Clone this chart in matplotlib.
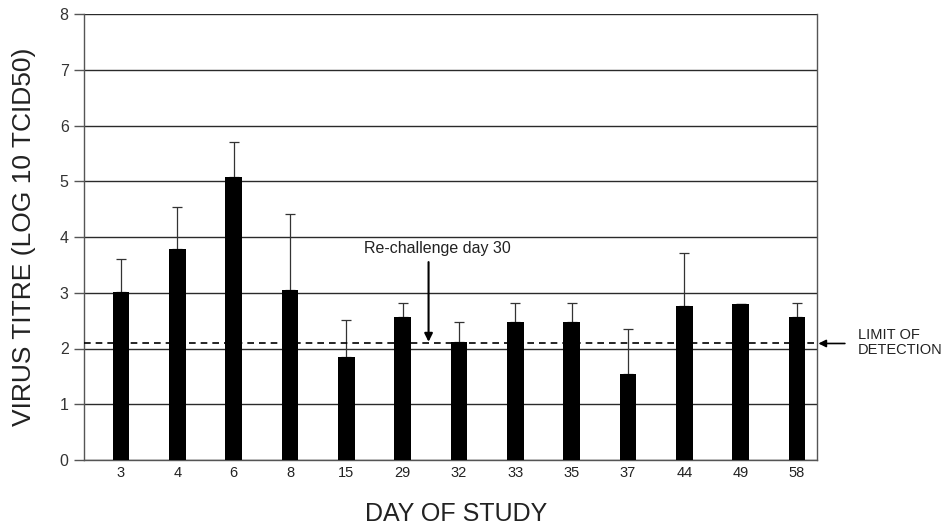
import matplotlib
matplotlib.use("Agg")
import matplotlib.pyplot as plt
import numpy as np

days = ["3", "4", "6", "8", "15", "29", "32", "33", "35", "37", "44", "49", "58"]
titre = [3.01, 3.78, 5.08, 3.05, 1.85, 2.56, 2.12, 2.48, 2.48, 1.54, 2.76, 2.80, 2.56]
upper = [3.61, 4.54, 5.71, 4.42, 2.51, 2.81, 2.48, 2.81, 2.81, 2.35, 3.71, 2.80, 2.81]
limit_detection = 2.09
rechallenge_pos = 5.46  # between day 29 and day 32

plt.rcParams['font.family'] = ['Liberation Sans', 'DejaVu Sans']

fig = plt.figure(figsize=(9.44, 5.28), dpi=100)
ax = fig.add_axes([84/944, 1-460/528, (817-84)/944, (460-14)/528])

x = np.arange(len(days))
err_up = np.array(upper) - np.array(titre)
err = np.vstack([np.zeros_like(err_up), err_up])
ax.bar(x, titre, width=0.30, color='black', zorder=3)
ax.errorbar(x, titre, yerr=err, fmt='none', ecolor='#333333', elinewidth=0.9,
            capsize=3.5, capthick=0.9, zorder=2)

ax.set_xlim(-0.656, 12.355)
ax.set_ylim(0, 8)
ax.set_yticks(range(0, 9))
ax.yaxis.grid(True, color='#2a2a2a', linewidth=1.0, zorder=0)
ax.set_axisbelow(True)
ax.set_xticks(x)
ax.set_xticklabels(days, fontsize=10.5)
ax.tick_params(axis='x', length=0, pad=4, colors='#222222')
ax.tick_params(axis='y', length=7, width=1, colors='#555555', labelcolor='#333333',
               labelsize=11.5, pad=4)
for s in ['left', 'right', 'bottom']:
    ax.spines[s].set_color('#555555')
    ax.spines[s].set_linewidth(1.0)
ax.spines['top'].set_visible(False)

ax.axhline(limit_detection, color='black', linestyle=(0, (4, 3)), linewidth=1.2, zorder=4)

ax.annotate('', xy=(rechallenge_pos, 2.12), xytext=(rechallenge_pos, 3.55),
            arrowprops=dict(arrowstyle='-|>', color='black', lw=1.5,
                            mutation_scale=12, shrinkA=0, shrinkB=0), zorder=5)
ax.text(rechallenge_pos + 0.15, 3.80, 'Re-challenge day 30', ha='center', va='center',
        fontsize=11.5, color='#222222')

ax.annotate('', xy=(12.38, limit_detection), xytext=(12.85, limit_detection),
            arrowprops=dict(arrowstyle='-|>', color='black', lw=1.2,
                            mutation_scale=11, shrinkA=0, shrinkB=0),
            annotation_clip=False)
ax.text(13.08, limit_detection + 0.02, 'LIMIT OF\nDETECTION', ha='left', va='center',
        fontsize=10.5, color='#222222', linespacing=1.05)

fig.text(24/944, 1-237/528, 'VIRUS TITRE (LOG 10 TCID50)', rotation=90,
         ha='center', va='center', fontsize=19, color='#222222')
fig.text(456/944, 1-514/528, 'DAY OF STUDY', ha='center', va='center',
         fontsize=18, color='#222222')

fig.savefig('out.png', dpi=100)
